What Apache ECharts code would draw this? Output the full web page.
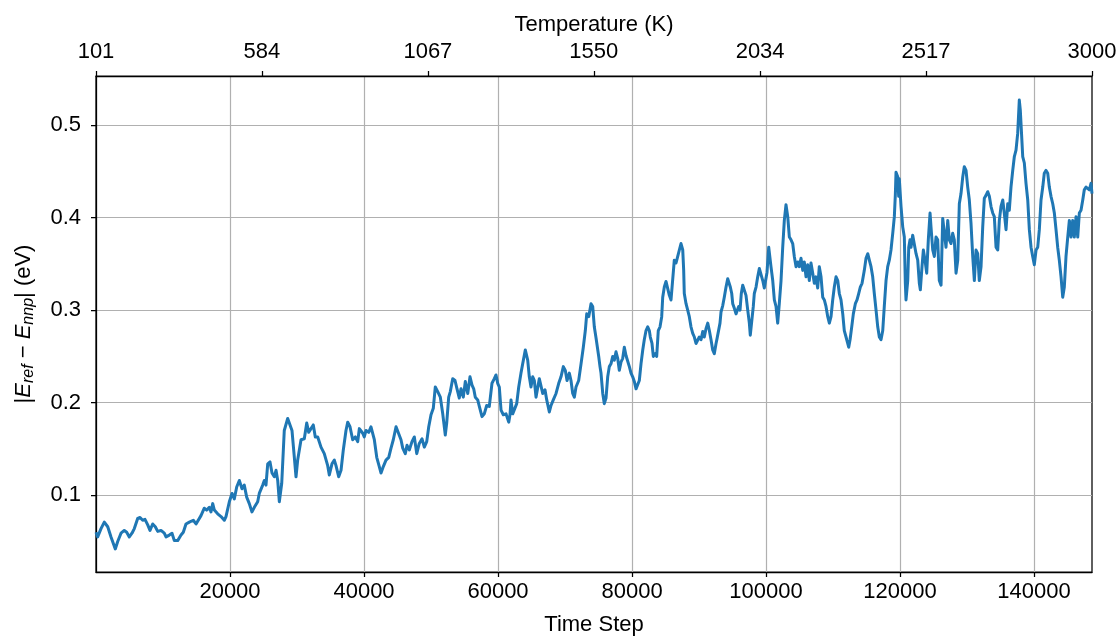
<!DOCTYPE html>
<html>
<head>
<meta charset="utf-8">
<script src="https://cdn.jsdelivr.net/npm/echarts@6/dist/echarts.min.js"></script>
<style>
html,body{margin:0;padding:0;background:#fff;}
#chart{width:1120px;height:637px;}
</style>
</head>
<body>
<div id="chart"></div>
<script>
// ---- data ----
const timeSteps = [
  0,250,750,1240,1750,2240,2880,3240,3730,4220,4580,4970,5370,5720,6220,6570,6970,7310,7720,8060,8460,8850,9210,9700,10190,10450,10940,11340,11690,12190,12690,13030,13430,13930,14520,14930,
  15670,16160,16520,16910,17160,17420,17660,18160,18660,19150,19400,19900,20300,20640,21000,21390,21790,22130,22490,22880,23280,23630,24130,24370,24880,25120,25370,25630,25970,26270,26610,26870,27120,27360,27720,28100,28610,28850,29250,29600,29850,
  30100,30600,31090,31450,31750,32090,32430,32730,33090,33580,34070,34580,34820,35220,35570,35820,36220,36570,36910,37310,37570,37910,38310,38700,39060,39300,39550,39810,40040,40300,40700,41040,41300,41540,41900,42280,42540,42880,43280,43690,44030,44370,44780,
  45520,45780,46160,46420,46760,47160,47510,47870,48250,48660,49000,49360,49660,50000,50340,50640,51000,51390,51750,52130,52340,52640,52880,53240,53580,53880,54220,54480,54820,55120,55480,55820,56120,56370,56610,56970,57210,57610,57950,58310,58700,59100,59450,59700,
  59950,60190,60450,60790,61190,61600,61790,61940,62190,62430,62790,63090,63430,63780,64070,64430,64670,64920,65180,65420,65670,65920,66160,66420,66670,67010,67270,67660,67910,68250,68660,69060,69400,69750,70040,70300,70640,70890,71150,71390,71640,72040,72390,72730,73030,73240,73540,73880,74130,74370,74630,
  75030,75220,75370,75630,75860,76120,76370,76610,76860,77120,77360,77610,77860,78100,78360,78610,78850,79100,79360,79600,79850,80100,80340,80600,80850,81090,81340,81600,81830,82090,82340,82580,82730,82980,83180,83480,83680,83920,84180,84430,84580,84820,85070,85330,85570,85820,86070,86310,86570,86820,87060,87310,87570,87710,87800,88060,88310,88550,88800,89060,89300,89550,
  89800,90040,90300,90550,90790,91040,91300,91540,91790,92040,92280,92540,92680,92940,93130,93280,93540,93770,94030,94280,94520,94670,94880,95030,95270,95520,95770,95920,96120,96310,96520,96760,97010,97270,97510,97650,97910,98100,98250,98510,98760,99000,99250,99510,99740,100000,100150,100400,100590,100740,101000,101240,101490,101740,101980,102240,102490,102730,102980,103240,103480,103730,103980,104220,104480,
  104730,104970,105220,105480,105710,105970,106220,106460,106710,106970,107210,107460,107710,107950,108210,108460,108700,108950,109210,109450,109700,109950,110190,110450,110700,110940,111190,111450,111680,111940,112190,112340,112540,112790,113030,113330,113580,113830,114070,114330,114670,114920,115180,115420,115670,115920,116160,116420,116670,116910,117160,117420,117650,117910,118160,118400,118650,118910,119150,119300,
  119400,119650,119800,119890,120150,120400,120640,120790,120890,121150,121300,121490,121640,121890,122130,122390,122640,122880,123030,123280,123480,123730,123980,124220,124480,124620,124880,125120,125370,125620,125860,126120,126370,126610,126860,127120,127360,127610,127860,128100,128360,128610,128850,129100,129360,129590,129850,130100,130340,130590,130850,131090,131340,131590,131830,132090,132340,132580,132830,133090,133330,133580,133830,134070,134330,
  134580,134820,135070,135330,135560,135820,136070,136310,136560,136820,137060,137310,137560,137800,137950,138160,138310,138550,138800,139060,139300,139550,139800,140040,140300,140550,140790,141040,141300,141530,141790,142040,142280,142530,142790,143030,143280,143530,143770,144030,144280,144520,144770,145030,145270,145520,145770,146010,146270,146520,146760,147010,147270,147500,147760,148010,148250,148500,148650
];
const energyErrorEv = [
  0.060,0.055,0.064,0.071,0.066,0.055,0.042,0.050,0.059,0.062,0.060,0.055,0.059,0.064,0.075,0.076,0.073,0.074,0.068,0.062,0.069,0.066,0.061,0.062,0.059,0.055,0.057,0.059,0.051,0.051,0.057,0.060,0.069,0.071,0.073,0.069,
  0.078,0.086,0.084,0.087,0.082,0.091,0.084,0.080,0.077,0.073,0.077,0.093,0.102,0.096,0.109,0.116,0.107,0.111,0.098,0.091,0.082,0.087,0.093,0.102,0.111,0.116,0.111,0.134,0.136,0.124,0.120,0.127,0.116,0.093,0.113,0.170,0.183,0.181,0.170,0.141,0.120,
  0.138,0.160,0.161,0.178,0.168,0.172,0.176,0.163,0.163,0.152,0.145,0.132,0.122,0.134,0.138,0.132,0.120,0.127,0.149,0.170,0.179,0.174,0.160,0.163,0.158,0.172,0.174,0.167,0.163,0.170,0.168,0.174,0.176,0.160,0.141,0.131,0.124,0.131,0.138,0.141,0.151,0.160,0.174,
  0.160,0.151,0.145,0.154,0.149,0.158,0.163,0.145,0.156,0.161,0.152,0.158,0.174,0.187,0.194,0.217,0.212,0.206,0.188,0.165,0.178,0.206,0.212,0.226,0.224,0.215,0.205,0.215,0.206,0.223,0.210,0.228,0.219,0.215,0.206,0.203,0.196,0.185,0.188,0.197,0.196,0.221,0.226,0.230,
  0.221,0.217,0.192,0.187,0.188,0.179,0.187,0.203,0.188,0.190,0.199,0.217,0.232,0.246,0.257,0.246,0.228,0.217,0.228,0.224,0.206,0.205,0.226,0.224,0.210,0.214,0.203,0.190,0.197,0.203,0.210,0.221,0.228,0.239,0.235,0.224,0.232,0.224,0.210,0.206,0.217,0.224,0.242,0.260,0.278,0.296,0.293,0.307,0.304,0.282,0.270,
  0.250,0.239,0.232,0.210,0.199,0.205,0.228,0.239,0.242,0.250,0.246,0.255,0.248,0.235,0.244,0.248,0.260,0.251,0.250,0.239,0.232,0.228,0.223,0.215,0.214,0.224,0.242,0.257,0.268,0.278,0.282,0.278,0.271,0.264,0.250,0.253,0.250,0.278,0.282,0.293,0.314,0.325,0.331,0.329,0.316,0.311,0.313,0.354,0.351,0.358,0.365,0.372,0.365,0.343,0.318,0.307,0.300,0.293,0.282,0.275,0.271,0.264,
  0.264,0.271,0.268,0.277,0.271,0.280,0.286,0.278,0.268,0.257,0.253,0.264,0.269,0.268,0.286,0.298,0.305,0.314,0.325,0.334,0.334,0.325,0.318,0.307,0.302,0.296,0.295,0.304,0.300,0.318,0.327,0.325,0.316,0.300,0.286,0.273,0.275,0.304,0.318,0.325,0.336,0.345,0.343,0.332,0.324,0.322,0.341,0.368,0.370,0.347,0.332,0.311,0.304,0.286,0.307,0.332,0.368,0.397,0.414,0.401,0.379,0.376,0.372,0.358,0.347,
  0.352,0.347,0.356,0.343,0.352,0.336,0.349,0.332,0.351,0.340,0.329,0.336,0.324,0.347,0.336,0.314,0.311,0.304,0.293,0.286,0.293,0.311,0.325,0.336,0.332,0.318,0.311,0.296,0.278,0.271,0.264,0.260,0.268,0.282,0.296,0.307,0.311,0.318,0.325,0.329,0.343,0.356,0.361,0.354,0.347,0.336,0.318,0.300,0.282,0.271,0.268,0.278,0.304,0.332,0.347,0.354,0.365,0.383,0.401,0.425,
  0.449,0.444,0.423,0.442,0.412,0.390,0.379,0.329,0.311,0.332,0.368,0.376,0.368,0.381,0.379,0.361,0.354,0.329,0.322,0.347,0.365,0.354,0.340,0.376,0.405,0.390,0.365,0.358,0.379,0.376,0.332,0.327,0.399,0.401,0.368,0.397,0.376,0.372,0.383,0.376,0.340,0.354,0.415,0.426,0.444,0.455,0.451,0.433,0.419,0.394,0.358,0.332,0.365,0.361,0.332,0.347,0.390,0.421,0.424,0.428,0.423,0.412,0.405,0.401,0.368,
  0.365,0.397,0.412,0.419,0.405,0.387,0.415,0.408,0.433,0.451,0.466,0.473,0.491,0.527,0.516,0.487,0.466,0.459,0.437,0.419,0.387,0.368,0.358,0.349,0.365,0.368,0.387,0.419,0.433,0.448,0.451,0.448,0.433,0.423,0.415,0.405,0.387,0.368,0.354,0.336,0.314,0.325,0.358,0.379,0.397,0.379,0.397,0.379,0.401,0.379,0.405,0.408,0.419,0.430,0.433,0.435,0.430,0.437,0.426
];
const stepTicks = [20000, 40000, 60000, 80000, 100000, 120000, 140000];
const temperatureTicks = [101, 584, 1067, 1550, 2034, 2517, 3000];
const errorTicks = [0.1, 0.2, 0.3, 0.4, 0.5];
const stepRange = [0, 148650];
const temperatureRange = [101, 3000];
const errorRange = [0.0171, 0.553];

// ---- chart ----
const FONT = "'Liberation Sans', Arial, Helvetica, sans-serif";
const FS = 22;
const n = Math.min(timeSteps.length, energyErrorEv.length);
const lineData = [];
for (let i = 0; i < n; i++) lineData.push([timeSteps[i], energyErrorEv[i]]);

const chart = echarts.init(document.getElementById('chart'), null, {renderer: 'canvas'});
const axisLineStyle = {color: '#000', width: 1.25};
const labelStyle = {color: '#000', fontSize: FS, fontFamily: FONT};
const plain = v => String(Math.round(v));

chart.setOption({
  animation: false,
  backgroundColor: '#fff',
  grid: {left: 96, right: 28, top: 76, bottom: 65, containLabel: false, outerBoundsMode: 'none',
         show: true, borderColor: '#000', borderWidth: 1.25},
  xAxis: [
    {
      type: 'value', position: 'bottom',
      min: stepRange[0], max: stepRange[1],
      name: 'Time Step', nameLocation: 'middle', nameGap: 42,
      nameTextStyle: {color: '#000', fontSize: FS, fontFamily: FONT},
      axisLine: {show: true, onZero: false, lineStyle: axisLineStyle},
      axisTick: {show: true, customValues: stepTicks, length: 5, lineStyle: {color: '#000', width: 1.25}},
      axisLabel: Object.assign({customValues: stepTicks, margin: 9, formatter: plain}, labelStyle),
      splitLine: {show: true, lineStyle: {color: '#b0b0b0', width: 1.2}}
    },
    {
      type: 'value', position: 'top',
      min: temperatureRange[0], max: temperatureRange[1],
      name: 'Temperature (K)', nameLocation: 'middle', nameGap: 39,
      nameTextStyle: {color: '#000', fontSize: FS, fontFamily: FONT},
      axisLine: {show: true, onZero: false, lineStyle: axisLineStyle},
      axisTick: {show: true, customValues: temperatureTicks, length: 5, lineStyle: {color: '#000', width: 1.25}},
      axisLabel: Object.assign({customValues: temperatureTicks, margin: 13, formatter: plain, hideOverlap: false, showMinLabel: true, showMaxLabel: true}, labelStyle),
      splitLine: {show: false}
    }
  ],
  yAxis: {
    type: 'value',
    min: errorRange[0], max: errorRange[1],
    name: '{t||}{i|E}{s|ref}{t| − }{i|E}{s|nnp}{t|| (eV)}',
    nameLocation: 'middle', nameGap: 59,
    nameTextStyle: {
      color: '#000', fontSize: FS, fontFamily: FONT,
      rich: {
        t: {fontSize: FS, fontFamily: FONT, color: '#000', lineHeight: 26, verticalAlign: 'middle'},
        i: {fontSize: FS, fontFamily: FONT, color: '#000', fontStyle: 'italic', lineHeight: 26, verticalAlign: 'middle'},
        s: {fontSize: 16, fontFamily: FONT, color: '#000', fontStyle: 'italic', lineHeight: 18, padding: [14, 0, 0, 0], verticalAlign: 'bottom'}
      }
    },
    axisLine: {show: true, onZero: false, lineStyle: axisLineStyle},
    axisTick: {show: true, customValues: errorTicks, length: 5, lineStyle: {color: '#000', width: 1.25}},
    axisLabel: Object.assign({customValues: errorTicks, margin: 15, formatter: v => v.toFixed(1)}, labelStyle),
    splitLine: {show: true, lineStyle: {color: '#b0b0b0', width: 1.2}}
  },
  series: [{
    type: 'line',
    xAxisIndex: 0, yAxisIndex: 0,
    data: lineData,
    showSymbol: false,
    symbol: 'none',
    lineStyle: {color: '#1f77b4', width: 3, join: 'round'},
    itemStyle: {color: '#1f77b4'},
    clip: true
  }]
});
</script>
</body>
</html>
